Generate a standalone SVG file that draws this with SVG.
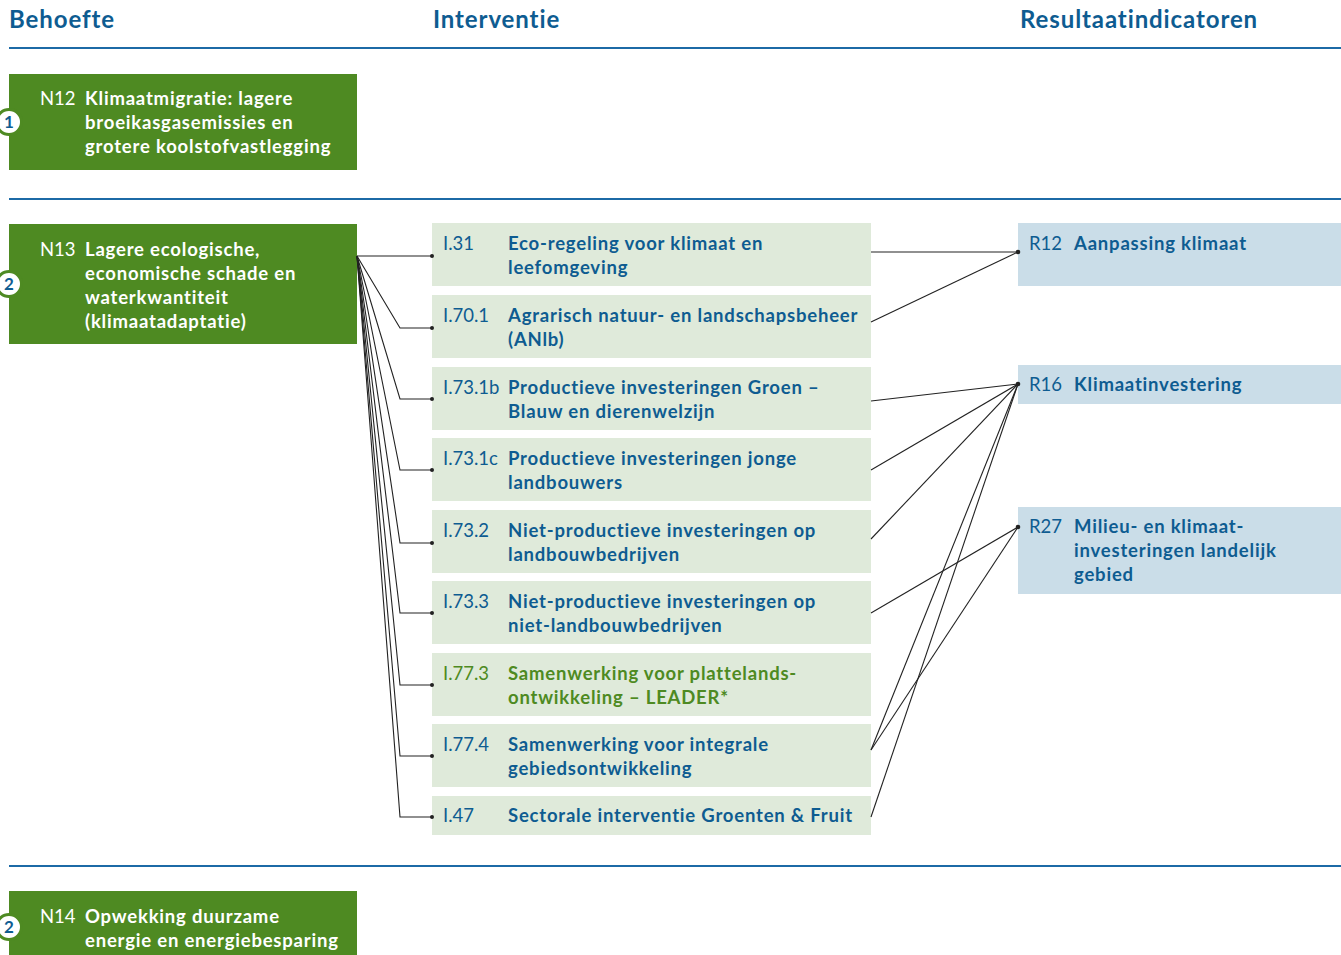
<svg xmlns="http://www.w3.org/2000/svg" width="1341" height="955" viewBox="0 0 1341 955">
<style>
text{font-family:Lato,"Noto Sans","Liberation Sans",sans-serif;font-size:18.5px}
.h{font-size:24px;font-weight:bold;fill:#0e5c91;letter-spacing:0.9px}
.sep{stroke:#1c6aa6;stroke-width:2}
.need{fill:#4e8a22}
.nc{fill:#fff}
.nl{fill:#fff;font-weight:bold;letter-spacing:0.8px}
.badge{fill:#fff;stroke:#4e8a22;stroke-width:3}
.bt{fill:#0e5c91;font-weight:bold;font-size:17px}
.iv{fill:#dfeada}
.res{fill:#cadde8}
.code{fill:#0e5c91}
.lab{fill:#0e5c91;font-weight:bold;letter-spacing:0.8px}
.g{fill:#4e8a22}
.con{fill:none;stroke:#222;stroke-width:1.1}
.dot{fill:#222}
</style>
<g id="headers">
<text class="h" x="9" y="28">Behoefte</text>
<text class="h" x="433" y="28">Interventie</text>
<text class="h" x="1020" y="28">Resultaatindicatoren</text>
<line class="sep" x1="9" y1="48" x2="1341" y2="48"/>
<line class="sep" x1="9" y1="199" x2="1341" y2="199"/>
<line class="sep" x1="9" y1="866" x2="1341" y2="866"/>
</g>
<g id="N12">
<rect class="need" x="9" y="74" width="348" height="96"/>
<circle class="badge" cx="9" cy="122" r="12.5"/>
<text class="bt" x="9" y="128" text-anchor="middle">1</text>
<text class="nc" x="40" y="105">N12</text>
<text class="nl" x="85" y="105">Klimaatmigratie: lagere</text>
<text class="nl" x="85" y="129">broeikasgasemissies en</text>
<text class="nl" x="85" y="153">grotere koolstofvastlegging</text>
</g>
<g id="N13">
<rect class="need" x="9" y="224" width="348" height="120"/>
<circle class="badge" cx="9" cy="284" r="12.5"/>
<text class="bt" x="9" y="290" text-anchor="middle">2</text>
<text class="nc" x="40" y="256">N13</text>
<text class="nl" x="85" y="256">Lagere ecologische,</text>
<text class="nl" x="85" y="280">economische schade en</text>
<text class="nl" x="85" y="304">waterkwantiteit</text>
<text class="nl" x="85" y="328">(klimaatadaptatie)</text>
</g>
<g id="N14">
<rect class="need" x="9" y="891" width="348" height="70"/>
<circle class="badge" cx="9" cy="927" r="12.5"/>
<text class="bt" x="9" y="933" text-anchor="middle">2</text>
<text class="nc" x="40" y="923">N14</text>
<text class="nl" x="85" y="923">Opwekking duurzame</text>
<text class="nl" x="85" y="947">energie en energiebesparing</text>
</g>
<g id="I31">
<rect class="iv" x="432" y="223" width="439" height="63"/>
<text class="code" x="443" y="250">I.31</text>
<text class="lab" x="508" y="250">Eco-regeling voor klimaat en</text>
<text class="lab" x="508" y="274">leefomgeving</text>
</g>
<g id="I70_1">
<rect class="iv" x="432" y="295" width="439" height="63"/>
<text class="code" x="443" y="322">I.70.1</text>
<text class="lab" x="508" y="322">Agrarisch natuur- en landschapsbeheer</text>
<text class="lab" x="508" y="346">(ANlb)</text>
</g>
<g id="I73_1b">
<rect class="iv" x="432" y="367" width="439" height="63"/>
<text class="code" x="443" y="394">I.73.1b</text>
<text class="lab" x="508" y="394">Productieve investeringen Groen –</text>
<text class="lab" x="508" y="418">Blauw en dierenwelzijn</text>
</g>
<g id="I73_1c">
<rect class="iv" x="432" y="438" width="439" height="63"/>
<text class="code" x="443" y="465">I.73.1c</text>
<text class="lab" x="508" y="465">Productieve investeringen jonge</text>
<text class="lab" x="508" y="489">landbouwers</text>
</g>
<g id="I73_2">
<rect class="iv" x="432" y="510" width="439" height="63"/>
<text class="code" x="443" y="537">I.73.2</text>
<text class="lab" x="508" y="537">Niet-productieve investeringen op</text>
<text class="lab" x="508" y="561">landbouwbedrijven</text>
</g>
<g id="I73_3">
<rect class="iv" x="432" y="581" width="439" height="63"/>
<text class="code" x="443" y="608">I.73.3</text>
<text class="lab" x="508" y="608">Niet-productieve investeringen op</text>
<text class="lab" x="508" y="632">niet-landbouwbedrijven</text>
</g>
<g id="I77_3">
<rect class="iv" x="432" y="653" width="439" height="63"/>
<text class="code g" x="443" y="680">I.77.3</text>
<text class="lab g" x="508" y="680">Samenwerking voor plattelands-</text>
<text class="lab g" x="508" y="704">ontwikkeling – LEADER*</text>
</g>
<g id="I77_4">
<rect class="iv" x="432" y="724" width="439" height="63"/>
<text class="code" x="443" y="751">I.77.4</text>
<text class="lab" x="508" y="751">Samenwerking voor integrale</text>
<text class="lab" x="508" y="775">gebiedsontwikkeling</text>
</g>
<g id="I47">
<rect class="iv" x="432" y="796" width="439" height="39"/>
<text class="code" x="443" y="822">I.47</text>
<text class="lab" x="508" y="822">Sectorale interventie Groenten &amp; Fruit</text>
</g>
<g id="R12">
<rect class="res" x="1018" y="223" width="323" height="63"/>
<text class="code" x="1029" y="250">R12</text>
<text class="lab" x="1074" y="250">Aanpassing klimaat</text>
</g>
<g id="R16">
<rect class="res" x="1018" y="365" width="323" height="39"/>
<text class="code" x="1029" y="391">R16</text>
<text class="lab" x="1074" y="391">Klimaatinvestering</text>
</g>
<g id="R27">
<rect class="res" x="1018" y="507" width="323" height="87"/>
<text class="code" x="1029" y="533">R27</text>
<text class="lab" x="1074" y="533">Milieu- en klimaat-</text>
<text class="lab" x="1074" y="557">investeringen landelijk</text>
<text class="lab" x="1074" y="581">gebied</text>
</g>
<g id="connectors">
<path class="con" d="M357,256 L432,256"/>
<path class="con" d="M357,256 L400,328 L432,328"/>
<path class="con" d="M357,256 L400,399 L432,399"/>
<path class="con" d="M357,256 L400,470 L432,470"/>
<path class="con" d="M357,256 L400,543 L432,543"/>
<path class="con" d="M357,256 L400,613 L432,613"/>
<path class="con" d="M357,256 L400,685 L432,685"/>
<path class="con" d="M357,256 L400,756 L432,756"/>
<path class="con" d="M357,256 L400,817 L432,817"/>
<circle class="dot" cx="432" cy="256" r="2"/>
<circle class="dot" cx="432" cy="328" r="2"/>
<circle class="dot" cx="432" cy="399" r="2"/>
<circle class="dot" cx="432" cy="470" r="2"/>
<circle class="dot" cx="432" cy="543" r="2"/>
<circle class="dot" cx="432" cy="613" r="2"/>
<circle class="dot" cx="432" cy="685" r="2"/>
<circle class="dot" cx="432" cy="756" r="2"/>
<circle class="dot" cx="432" cy="817" r="2"/>
<path class="con" d="M871,252 L1018,252"/>
<path class="con" d="M871,322 L1018,252"/>
<path class="con" d="M871,401 L1018,384"/>
<path class="con" d="M871,470 L1018,384"/>
<path class="con" d="M871,539 L1018,384"/>
<path class="con" d="M871,613 L1018,527"/>
<path class="con" d="M871,750 L1018,384"/>
<path class="con" d="M871,750 L1018,527"/>
<path class="con" d="M871,817 L1018,384"/>
<circle class="dot" cx="1018" cy="252" r="2.3"/>
<circle class="dot" cx="1018" cy="384" r="2.3"/>
<circle class="dot" cx="1018" cy="527" r="2.3"/>
</g>
</svg>
